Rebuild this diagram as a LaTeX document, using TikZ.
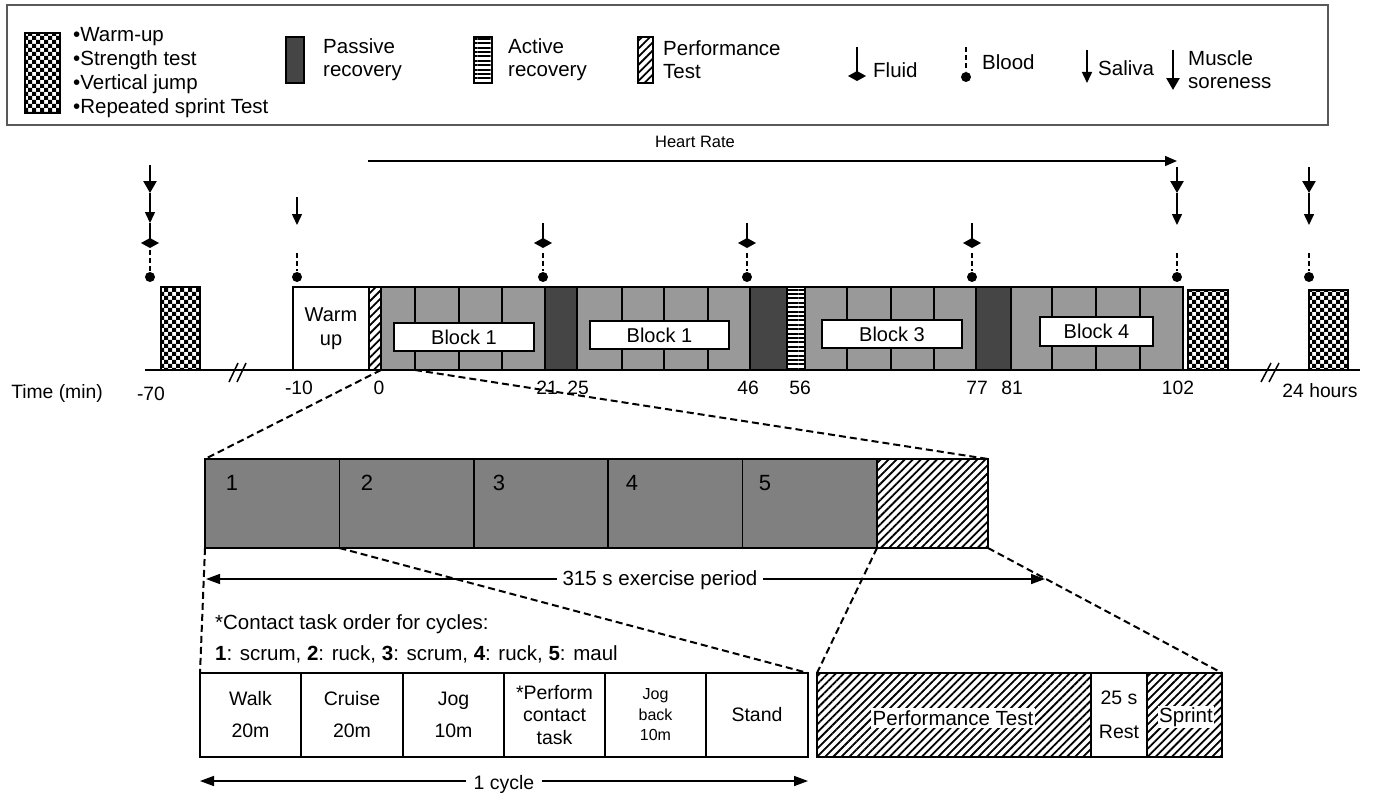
\documentclass[tikz,border=0pt]{standalone}
\usepackage{fontspec}
\setmainfont{Liberation Sans}
\usetikzlibrary{arrows.meta, patterns, patterns.meta, positioning}

\definecolor{cellgray}{gray}{0.6}
\definecolor{restgray}{gray}{0.27}
\definecolor{bargray}{gray}{0.5}
\definecolor{framegray}{gray}{0.35}

\pgfdeclarepatternformonly{checks}{\pgfqpoint{-.1pt}{-.1pt}}{\pgfqpoint{8.1pt}{8.1pt}}{\pgfqpoint{8pt}{8pt}}{%
  \pgfpathrectangle{\pgfpointorigin}{\pgfqpoint{4.1pt}{4.1pt}}%
  \pgfpathrectangle{\pgfqpoint{4pt}{4pt}}{\pgfqpoint{4.1pt}{4.1pt}}%
  \pgfusepath{fill}}

\tikzset{
  txt/.style={font=\fontsize{20.5}{23}\selectfont, inner sep=0pt, align=left},
  num/.style={font=\fontsize{19.3}{22}\selectfont, inner sep=0pt},
  bignum/.style={font=\fontsize{22}{24}\selectfont, inner sep=0pt},
  box/.style={draw, line width=1.5pt, inner sep=0pt, outer sep=0pt, align=center,
    font=\fontsize{20}{24}\selectfont},
  frame/.style={box, draw=framegray},
  block/.style={box, fill=cellgray},
  bar/.style={box, fill=bargray},
  passive/.style={box, fill=restgray},
  active/.style={box, pattern={Lines[distance=4.4pt, line width=2pt]}},
  perf/.style={box, pattern={Lines[angle=45, distance=5.7pt, line width=1.8pt]}},
  tests/.style={box, pattern=checks},
  label/.style={box, fill=white},
  task/.style={box, fill=white, font=\fontsize{19.5}{32}\selectfont},
  sore/.style={line width=2.5pt, -{Triangle[length=12pt, width=13pt]}},
  saliva/.style={line width=1.5pt, -{Triangle[length=11pt, width=10pt]}},
  blooddash/.style={line width=1.5pt, dash pattern=on 5pt off 3pt},
  zoomline/.style={line width=2pt, dash pattern=on 7pt off 4pt},
  dim/.style={line width=1.5pt, {Triangle[length=14pt, width=10pt]}-{Triangle[length=14pt, width=10pt]}},
  hrarrow/.style={line width=1.5pt, -{Triangle[length=12pt, width=10pt]}}
}

% box from corner (x1,y1) to corner (x2,y2)
\newcommand\boxat[7]{\node[#6, minimum width={(#4-#2)*1pt}, minimum height={(#5-#3)*1pt}] (#1) at ({(#2+#4)/2},{(#3+#5)/2}) {#7};}
\newcommand\fluidmark[3]{%
  \draw[line width=1.5pt] (#1,#2) -- (#1,#3);
  \fill (#1-9,#3) -- (#1,#3-5) -- (#1+9,#3) -- (#1,#3+5) -- cycle;}
\newcommand\bloodmark[3]{%
  \draw[blooddash] (#1,#2) -- (#1,#3-6);
  \fill (#1,#3) circle (5pt);}

\begin{document}
\begin{tikzpicture}[x=1pt, y=-1pt]
\useasboundingbox (0,0) rectangle (1381,800);

% legend
\boxat{legend}{7}{5}{1328}{125}{frame}{}
\boxat{ltest}{25}{33}{60}{113}{tests}{}
\node[txt, right=13pt of ltest, font=\fontsize{20.5}{24}\selectfont] {•Warm-up\\•Strength test\\•Vertical jump\\•Repeated sprint Test};
\boxat{lpas}{286}{37}{304}{83}{passive}{}
\node[txt, right=19pt of lpas] {Passive\\recovery};
\boxat{lact}{474}{37}{492}{83}{active}{}
\node[txt, right=16pt of lact] {Active\\recovery};
\boxat{lperf}{638}{37}{653}{83}{perf}{}
\node[txt, right=10pt of lperf] {Performance\\Test};
\fluidmark{857}{47}{76}
\node[txt, anchor=west] (lfluid) at (873,70) {Fluid};
\bloodmark{966}{47}{77}
\node[txt, anchor=west] (lblood) at (982,62) {Blood};
\draw[saliva] (1087,50) -- (1087,83);
\node[txt, anchor=west] (lsaliva) at (1098,68) {Saliva};
\draw[sore] (1173,50) -- (1173,90);
\node[txt, anchor=west] (lsore) at (1188,70) {Muscle\\soreness};

% heart rate
\coordinate (hr0) at (368,161);
\coordinate (hr1) at (1177,161);
\draw[hrarrow] (hr0) -- (hr1);
\node[font=\fontsize{16.5}{18}\selectfont, inner sep=0pt] (hr) at (695,142) {Heart Rate};

% time axis
\coordinate (t0) at (145,370);
\coordinate (t1) at (1360,370);
\draw[line width=1.5pt] (t0) -- (t1);
\draw[line width=1.5pt] (229,382) -- (238,363) (237,382) -- (246,363);
\draw[line width=1.5pt] (1261,382) -- (1271,363) (1269,382) -- (1279,363);

% sessions
\boxat{pre}{161}{287}{200}{370}{tests}{}
\boxat{wu}{293}{287}{369}{370}{box}{Warm\\up}
\boxat{pt0}{369}{287}{381}{370}{perf}{}
\boxat{c11}{381}{287}{415}{370}{block}{}
\boxat{c12}{415}{287}{459}{370}{block}{}
\boxat{c13}{459}{287}{502}{370}{block}{}
\boxat{c14}{502}{287}{545}{370}{block}{}
\boxat{pr1}{545}{287}{577}{370}{passive}{}
\boxat{c21}{577}{287}{622}{370}{block}{}
\boxat{c22}{622}{287}{664}{370}{block}{}
\boxat{c23}{664}{287}{708}{370}{block}{}
\boxat{c24}{708}{287}{750}{370}{block}{}
\boxat{pr2}{750}{287}{787}{370}{passive}{}
\boxat{ar}{787}{287}{805}{370}{active}{}
\boxat{c31}{805}{287}{847}{370}{block}{}
\boxat{c32}{847}{287}{891}{370}{block}{}
\boxat{c33}{891}{287}{934}{370}{block}{}
\boxat{c34}{934}{287}{976}{370}{block}{}
\boxat{pr3}{976}{287}{1011}{370}{passive}{}
\boxat{c41}{1011}{287}{1052}{370}{block}{}
\boxat{c42}{1052}{287}{1096}{370}{block}{}
\boxat{c43}{1096}{287}{1140}{370}{block}{}
\boxat{c44}{1140}{287}{1183}{370}{block}{}
\boxat{post}{1188}{290}{1228}{370}{tests}{}
\boxat{day}{1309}{290}{1348}{370}{tests}{}
\boxat{lab1}{394}{323}{534}{351}{label}{Block 1}
\boxat{lab2}{590}{321}{729}{349}{label}{Block 1}
\boxat{lab3}{822}{320}{962}{348}{label}{Block 3}
\boxat{lab4}{1040}{317}{1153}{346}{label}{Block 4}

% samples
\draw[sore] (150,165) -- (150,193);
\draw[saliva] (150,193) -- (150,223);
\fluidmark{150}{223}{243}
\bloodmark{150}{250}{277}
\draw[saliva] (297,197) -- (297,225);
\bloodmark{297}{253}{277}
\fluidmark{543}{223}{243}
\bloodmark{543}{253}{277}
\fluidmark{747}{223}{243}
\bloodmark{747}{253}{277}
\fluidmark{972}{223}{243}
\bloodmark{972}{253}{277}
\draw[sore] (1177,167) -- (1177,193);
\draw[saliva] (1177,193) -- (1177,225);
\bloodmark{1177}{253}{277}
\draw[sore] (1309,167) -- (1309,193);
\draw[saliva] (1309,193) -- (1309,225);
\bloodmark{1309}{253}{277}

% time labels
\node[num] (tmin) at (57,394) {Time (min)};
\node[num] (m70) at (151,394) {-70};
\node[num] (m10) at (299,388) {-10};
\node[num] (n0) at (379,388) {0};
\node[num] (n21) at (547,388) {21};
\node[num] (n25) at (578,388) {25};
\node[num] (n46) at (748,388) {46};
\node[num] (n56) at (800,388) {56};
\node[num] (n77) at (977,388) {77};
\node[num] (n81) at (1012,388) {81};
\node[num] (n102) at (1178,388) {102};
\node[num] (n24) at (1320,391) {24 hours};

% one block in detail
\boxat{d1}{205}{459}{339.4}{548}{bar}{}
\boxat{d2}{339.4}{459}{473.8}{548}{bar}{}
\boxat{d3}{473.8}{459}{608.2}{548}{bar}{}
\boxat{d4}{608.2}{459}{742.6}{548}{bar}{}
\boxat{d5}{742.6}{459}{877}{548}{bar}{}
\boxat{dpt}{877}{459}{988}{548}{perf}{}
\node[bignum] at (232,483) {1};
\node[bignum] at (367,483) {2};
\node[bignum] at (499,483) {3};
\node[bignum] at (632,483) {4};
\node[bignum] at (765,483) {5};
\draw[zoomline] (pt0.south east) -- (d1.north west);
\draw[zoomline] (c11.south east) -- (dpt.north east);

\coordinate (e0) at (206,579);
\coordinate (e1) at (1045,579);
\draw[dim] (e0) -- (e1);
\node[txt, fill=white, inner xsep=6pt, inner ysep=1pt] (ex) at (660,580) {315 s exercise period};

\node[txt, anchor=west] (order) at (215,624) {*Contact task order for cycles:};
\node[txt, anchor=west] (cycles) at (215,654) {\textbf{1}: scrum, \textbf{2}: ruck, \textbf{3}: scrum, \textbf{4}: ruck, \textbf{5}: maul};

% one cycle
\boxat{walk}{200}{673}{301}{757}{task}{Walk\\20m}
\boxat{cruise}{301}{673}{403}{757}{task}{Cruise\\20m}
\boxat{jog}{403}{673}{504}{757}{task}{Jog\\10m}
\boxat{contact}{504}{673}{605}{757}{task, font=\fontsize{19.5}{22.5}\selectfont}{*Perform\\contact\\task}
\boxat{back}{605}{673}{706}{757}{task, font=\fontsize{16}{20.5}\selectfont}{Jog\\back\\10m}
\boxat{stand}{706}{673}{808}{757}{task}{Stand}
\draw[zoomline] (d1.south west) -- (walk.north west);
\draw[zoomline] (d1.south east) -- (stand.north east);

\coordinate (y0) at (200,781);
\coordinate (y1) at (808,781);
\draw[dim] (y0) -- (y1);
\node[num, fill=white, inner xsep=8pt, inner ysep=1pt, font=\fontsize{19.5}{22}\selectfont] (cyc) at (504,784) {1 cycle};

% performance test in detail
\boxat{ptest}{817}{673}{1091}{757}{perf}{}
\boxat{rest}{1091}{673}{1147}{757}{task, font=\fontsize{19.5}{34}\selectfont}{25 s\\Rest}
\boxat{sprint}{1147}{673}{1222}{757}{perf}{}
\node[txt, fill=white, inner sep=2pt] at (953,718) {Performance Test};
\node[txt, fill=white, inner sep=1.5pt] at (1186,717) {Sprint};
\draw[zoomline] (dpt.south west) -- (ptest.north west);
\draw[zoomline] (dpt.south east) -- (sprint.north east);
\end{tikzpicture}
\end{document}
